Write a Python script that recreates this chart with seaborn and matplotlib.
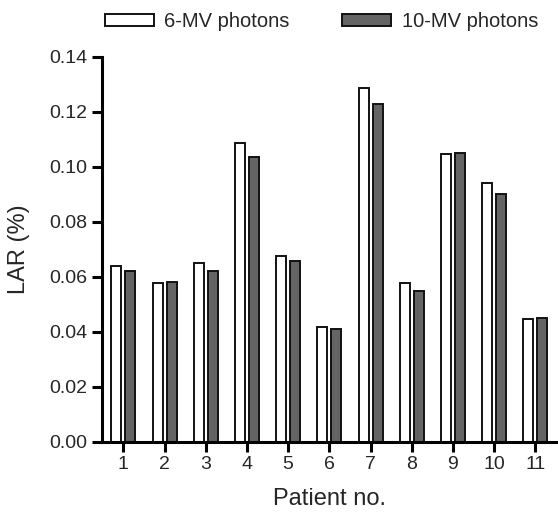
import matplotlib
matplotlib.use("Agg")
import matplotlib.pyplot as plt
import seaborn as sns
import pandas as pd

patients = ["1", "2", "3", "4", "5", "6", "7", "8", "9", "10", "11"]
lar_6mv = [0.0640, 0.0578, 0.0649, 0.1087, 0.0675, 0.0418, 0.1287, 0.0578, 0.1047, 0.0942, 0.0445]
lar_10mv = [0.0622, 0.0582, 0.0622, 0.1034, 0.0656, 0.0411, 0.1227, 0.0549, 0.1051, 0.0902, 0.0449]
series = ["6-MV photons", "10-MV photons"]
colors = ["white", "#646464"]
y_ticks = [0.00, 0.02, 0.04, 0.06, 0.08, 0.10, 0.12, 0.14]

df = pd.DataFrame({
    "Patient": patients * 2,
    "LAR": lar_6mv + lar_10mv,
    "Beam": [series[0]] * len(patients) + [series[1]] * len(patients),
})

sns.set_style("ticks")
plt.rcParams["font.family"] = ["Liberation Sans", "DejaVu Sans"]

fig = plt.figure(figsize=(5.58, 5.12), dpi=100)
ax = fig.add_axes([0.182, 0.137, 0.818, 0.752])

sns.barplot(data=df, x="Patient", y="LAR", hue="Beam", order=patients,
            hue_order=series, palette=colors, edgecolor="#111111",
            linewidth=1.4, width=0.68, gap=0.29, ax=ax, legend=True)

ax.set_xlim(-0.53, 10.55)
ax.set_ylim(0, 0.14)
ax.set_yticks(y_ticks)
ax.set_yticklabels([f"{v:.2f}" for v in y_ticks])
ax.set_xlabel("Patient no.", fontsize=17, labelpad=11)
ax.set_ylabel("LAR (%)", fontsize=17, labelpad=14)
ax.tick_params(axis="both", labelsize=14, length=7, width=2.2, color="black", pad=3)
for s in ["left", "bottom"]:
    ax.spines[s].set_linewidth(2.2)
    ax.spines[s].set_color("black")
sns.despine(ax=ax)

handles, labels = ax.get_legend_handles_labels()
ax.get_legend().remove()
fig.legend(handles, labels, loc="upper left", bbox_to_anchor=(105 / 558, 1 - 12 / 512),
           ncol=2, frameon=False, fontsize=14.5, handlelength=2.45, handleheight=0.5,
           handletextpad=0.5, columnspacing=2.6, borderpad=0, borderaxespad=0)

fig.savefig("out.png", dpi=100)
